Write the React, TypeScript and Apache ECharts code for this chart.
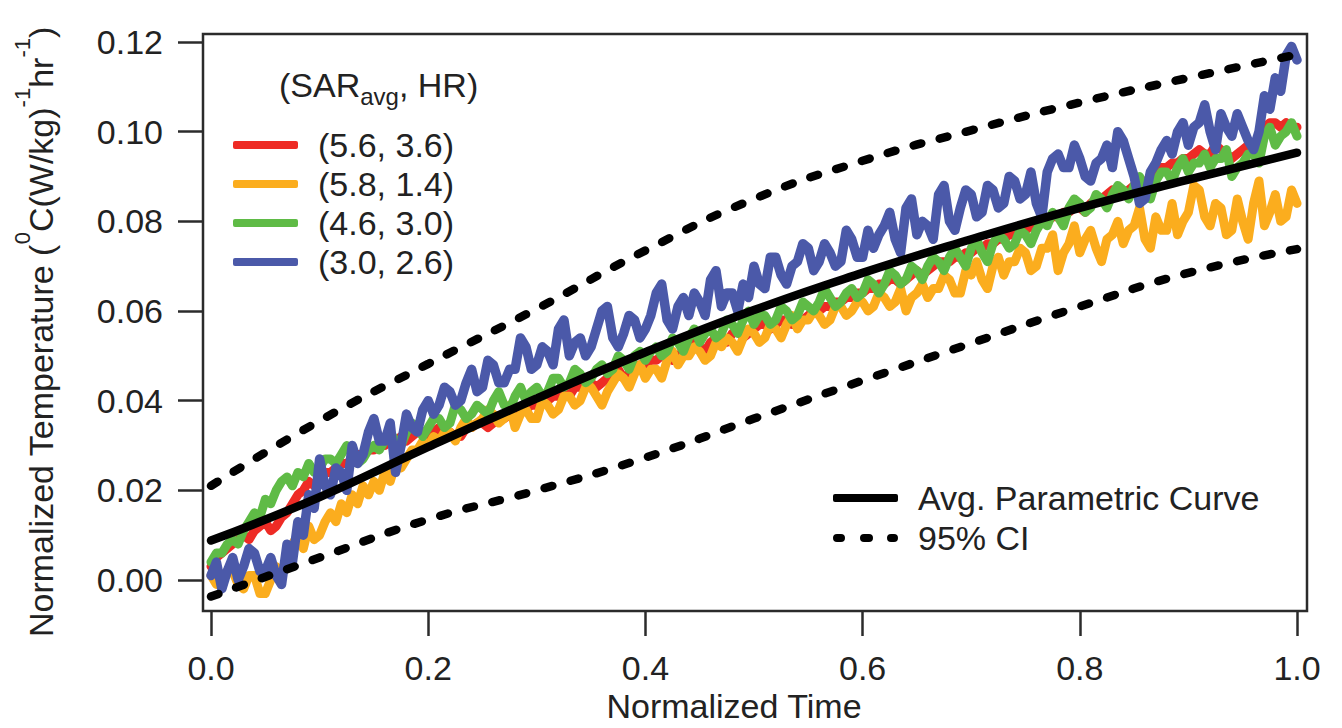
import React, { useEffect, useRef } from "react";
import * as echarts from "echarts";

const TIME = [
  0.0, 0.005, 0.01, 0.015, 0.02, 0.025, 0.03, 0.035, 0.04, 0.045,
  0.05, 0.055, 0.06, 0.065, 0.07, 0.075, 0.08, 0.085, 0.09, 0.095,
  0.1, 0.105, 0.11, 0.115, 0.12, 0.125, 0.13, 0.135, 0.14, 0.145,
  0.15, 0.155, 0.16, 0.165, 0.17, 0.175, 0.18, 0.185, 0.19, 0.195,
  0.2, 0.205, 0.21, 0.215, 0.22, 0.225, 0.23, 0.235, 0.24, 0.245,
  0.25, 0.255, 0.26, 0.265, 0.27, 0.275, 0.28, 0.285, 0.29, 0.295,
  0.3, 0.305, 0.31, 0.315, 0.32, 0.325, 0.33, 0.335, 0.34, 0.345,
  0.35, 0.355, 0.36, 0.365, 0.37, 0.375, 0.38, 0.385, 0.39, 0.395,
  0.4, 0.405, 0.41, 0.415, 0.42, 0.425, 0.43, 0.435, 0.44, 0.445,
  0.45, 0.455, 0.46, 0.465, 0.47, 0.475, 0.48, 0.485, 0.49, 0.495,
  0.5, 0.505, 0.51, 0.515, 0.52, 0.525, 0.53, 0.535, 0.54, 0.545,
  0.55, 0.555, 0.56, 0.565, 0.57, 0.575, 0.58, 0.585, 0.59, 0.595,
  0.6, 0.605, 0.61, 0.615, 0.62, 0.625, 0.63, 0.635, 0.64, 0.645,
  0.65, 0.655, 0.66, 0.665, 0.67, 0.675, 0.68, 0.685, 0.69, 0.695,
  0.7, 0.705, 0.71, 0.715, 0.72, 0.725, 0.73, 0.735, 0.74, 0.745,
  0.75, 0.755, 0.76, 0.765, 0.77, 0.775, 0.78, 0.785, 0.79, 0.795,
  0.8, 0.805, 0.81, 0.815, 0.82, 0.825, 0.83, 0.835, 0.84, 0.845,
  0.85, 0.855, 0.86, 0.865, 0.87, 0.875, 0.88, 0.885, 0.89, 0.895,
  0.9, 0.905, 0.91, 0.915, 0.92, 0.925, 0.93, 0.935, 0.94, 0.945,
  0.95, 0.955, 0.96, 0.965, 0.97, 0.975, 0.98, 0.985, 0.99, 0.995,
  1.0,
];

// (5.6, 3.6)
const RED = [
  0.003, 0.005, 0.006, 0.007, 0.008, 0.009, 0.010, 0.009, 0.011, 0.012,
  0.013, 0.011, 0.012, 0.014, 0.015, 0.017, 0.019, 0.020, 0.022, 0.021,
  0.023, 0.024, 0.024, 0.025, 0.026, 0.026, 0.027, 0.028, 0.028, 0.029,
  0.029, 0.030, 0.030, 0.031, 0.031, 0.032, 0.031, 0.032, 0.033, 0.033,
  0.032, 0.033, 0.034, 0.033, 0.033, 0.032, 0.032, 0.034, 0.034, 0.035,
  0.035, 0.034, 0.035, 0.036, 0.036, 0.037, 0.037, 0.038, 0.038, 0.039,
  0.039, 0.040, 0.040, 0.041, 0.041, 0.042, 0.041, 0.043, 0.043, 0.044,
  0.044, 0.043, 0.044, 0.045, 0.046, 0.047, 0.045, 0.046, 0.047, 0.048,
  0.048, 0.049, 0.049, 0.050, 0.050, 0.049, 0.050, 0.051, 0.052, 0.053,
  0.052, 0.051, 0.053, 0.054, 0.054, 0.053, 0.055, 0.056, 0.054, 0.055,
  0.056, 0.057, 0.057, 0.056, 0.057, 0.058, 0.058, 0.057, 0.057, 0.058,
  0.059, 0.060, 0.060, 0.061, 0.061, 0.062, 0.062, 0.063, 0.063, 0.064,
  0.064, 0.065, 0.065, 0.066, 0.066, 0.067, 0.067, 0.066, 0.067, 0.068,
  0.069, 0.068, 0.069, 0.070, 0.071, 0.071, 0.071, 0.072, 0.072, 0.073,
  0.073, 0.074, 0.074, 0.075, 0.075, 0.076, 0.076, 0.077, 0.077, 0.078,
  0.078, 0.079, 0.079, 0.080, 0.080, 0.081, 0.081, 0.082, 0.082, 0.083,
  0.083, 0.082, 0.084, 0.085, 0.085, 0.086, 0.087, 0.086, 0.086, 0.087,
  0.088, 0.089, 0.089, 0.088, 0.091, 0.092, 0.092, 0.093, 0.093, 0.094,
  0.094, 0.095, 0.096, 0.095, 0.095, 0.097, 0.096, 0.095, 0.094, 0.095,
  0.096, 0.097, 0.097, 0.098, 0.101, 0.102, 0.102, 0.101, 0.102, 0.101,
  0.101,
];

// (5.8, 1.4)
const ORANGE = [
  0.001, -0.001, 0.000, 0.002, 0.002, -0.001, -0.002, 0.001, 0.001, -0.003,
  -0.003, 0.000, 0.003, 0.001, 0.005, 0.008, 0.010, 0.007, 0.012, 0.009,
  0.010, 0.013, 0.015, 0.013, 0.017, 0.015, 0.019, 0.017, 0.021, 0.019,
  0.022, 0.020, 0.024, 0.022, 0.026, 0.025, 0.027, 0.029, 0.029, 0.031,
  0.030, 0.032, 0.031, 0.033, 0.033, 0.031, 0.034, 0.036, 0.034, 0.035,
  0.036, 0.038, 0.037, 0.035, 0.036, 0.039, 0.034, 0.037, 0.038, 0.036,
  0.036, 0.040, 0.039, 0.037, 0.038, 0.041, 0.041, 0.039, 0.040, 0.043,
  0.043, 0.041, 0.039, 0.042, 0.044, 0.046, 0.045, 0.043, 0.046, 0.048,
  0.045, 0.047, 0.047, 0.045, 0.049, 0.051, 0.048, 0.050, 0.050, 0.052,
  0.051, 0.049, 0.050, 0.053, 0.052, 0.054, 0.053, 0.051, 0.054, 0.056,
  0.055, 0.053, 0.054, 0.057, 0.056, 0.054, 0.057, 0.059, 0.056, 0.058,
  0.058, 0.060, 0.059, 0.057, 0.058, 0.061, 0.061, 0.059, 0.060, 0.062,
  0.062, 0.060, 0.061, 0.064, 0.063, 0.061, 0.062, 0.065, 0.060, 0.063,
  0.064, 0.066, 0.063, 0.065, 0.065, 0.068, 0.067, 0.064, 0.064, 0.069,
  0.068, 0.071, 0.067, 0.065, 0.070, 0.072, 0.068, 0.071, 0.071, 0.074,
  0.073, 0.069, 0.070, 0.074, 0.074, 0.077, 0.069, 0.073, 0.075, 0.079,
  0.073, 0.076, 0.078, 0.074, 0.071, 0.076, 0.077, 0.080, 0.075, 0.078,
  0.079, 0.083, 0.076, 0.074, 0.081, 0.078, 0.078, 0.084, 0.077, 0.080,
  0.082, 0.088, 0.087, 0.081, 0.079, 0.084, 0.083, 0.077, 0.078, 0.085,
  0.080, 0.076, 0.084, 0.089, 0.079, 0.082, 0.086, 0.080, 0.081, 0.087,
  0.084,
];

// (4.6, 3.0)
const GREEN = [
  0.004, 0.006, 0.006, 0.008, 0.009, 0.008, 0.011, 0.013, 0.015, 0.014,
  0.018, 0.017, 0.020, 0.022, 0.023, 0.021, 0.024, 0.023, 0.026, 0.024,
  0.025, 0.027, 0.027, 0.026, 0.028, 0.030, 0.028, 0.026, 0.027, 0.029,
  0.030, 0.029, 0.031, 0.033, 0.031, 0.030, 0.033, 0.035, 0.034, 0.032,
  0.034, 0.036, 0.036, 0.034, 0.035, 0.039, 0.038, 0.036, 0.037, 0.039,
  0.038, 0.037, 0.040, 0.042, 0.039, 0.038, 0.041, 0.043, 0.040, 0.042,
  0.043, 0.041, 0.042, 0.045, 0.045, 0.043, 0.044, 0.047, 0.046, 0.044,
  0.045, 0.047, 0.048, 0.046, 0.047, 0.050, 0.049, 0.047, 0.050, 0.051,
  0.049, 0.051, 0.052, 0.050, 0.051, 0.054, 0.053, 0.051, 0.054, 0.056,
  0.053, 0.055, 0.056, 0.054, 0.055, 0.058, 0.057, 0.055, 0.058, 0.060,
  0.057, 0.059, 0.059, 0.057, 0.058, 0.061, 0.060, 0.058, 0.059, 0.062,
  0.061, 0.060, 0.062, 0.065, 0.063, 0.061, 0.062, 0.064, 0.065, 0.063,
  0.064, 0.067, 0.066, 0.064, 0.066, 0.069, 0.068, 0.066, 0.067, 0.070,
  0.069, 0.067, 0.070, 0.072, 0.071, 0.069, 0.072, 0.074, 0.072, 0.070,
  0.074, 0.076, 0.073, 0.071, 0.075, 0.077, 0.076, 0.074, 0.075, 0.078,
  0.077, 0.075, 0.078, 0.080, 0.079, 0.082, 0.081, 0.079, 0.083, 0.085,
  0.084, 0.082, 0.083, 0.086, 0.085, 0.083, 0.086, 0.088, 0.087, 0.085,
  0.088, 0.090, 0.087, 0.085, 0.089, 0.091, 0.091, 0.089, 0.092, 0.094,
  0.091, 0.093, 0.093, 0.095, 0.092, 0.094, 0.094, 0.096, 0.090, 0.092,
  0.093, 0.095, 0.095, 0.093, 0.099, 0.101, 0.097, 0.099, 0.100, 0.102,
  0.099,
];

// (3.0, 2.6)
const BLUE = [
  0.001, 0.004, -0.002, 0.002, 0.005, 0.000, 0.003, 0.007, 0.006, 0.002,
  0.002, 0.005, 0.001, -0.001, 0.008, 0.004, 0.013, 0.010, 0.019, 0.016,
  0.027, 0.021, 0.019, 0.025, 0.024, 0.020, 0.030, 0.026, 0.028, 0.033,
  0.036, 0.031, 0.031, 0.035, 0.024, 0.030, 0.037, 0.034, 0.033, 0.038,
  0.040, 0.037, 0.039, 0.043, 0.042, 0.039, 0.040, 0.044, 0.047, 0.042,
  0.043, 0.049, 0.048, 0.044, 0.044, 0.047, 0.047, 0.054, 0.052, 0.047,
  0.048, 0.052, 0.051, 0.048, 0.056, 0.058, 0.050, 0.053, 0.054, 0.050,
  0.052, 0.056, 0.060, 0.061, 0.054, 0.052, 0.055, 0.059, 0.058, 0.054,
  0.056, 0.059, 0.064, 0.066, 0.058, 0.056, 0.061, 0.063, 0.059, 0.064,
  0.062, 0.059, 0.067, 0.069, 0.061, 0.064, 0.064, 0.060, 0.066, 0.063,
  0.070, 0.066, 0.065, 0.072, 0.072, 0.068, 0.066, 0.070, 0.071, 0.075,
  0.074, 0.069, 0.071, 0.075, 0.073, 0.070, 0.071, 0.078, 0.076, 0.072,
  0.072, 0.078, 0.074, 0.077, 0.079, 0.082, 0.076, 0.073, 0.083, 0.085,
  0.077, 0.080, 0.079, 0.076, 0.086, 0.088, 0.080, 0.078, 0.083, 0.087,
  0.086, 0.081, 0.082, 0.088, 0.087, 0.083, 0.084, 0.090, 0.089, 0.085,
  0.086, 0.091, 0.084, 0.081, 0.091, 0.094, 0.095, 0.092, 0.092, 0.097,
  0.094, 0.090, 0.089, 0.093, 0.094, 0.097, 0.092, 0.100, 0.098, 0.094,
  0.090, 0.084, 0.085, 0.091, 0.093, 0.096, 0.098, 0.095, 0.100, 0.102,
  0.097, 0.101, 0.102, 0.106, 0.100, 0.096, 0.104, 0.101, 0.099, 0.104,
  0.101, 0.098, 0.096, 0.100, 0.108, 0.105, 0.112, 0.109, 0.117, 0.119,
  0.116,
];

const FIT_TIME = [0.0, 0.1, 0.2, 0.3, 0.4, 0.5, 0.6, 0.7, 0.8, 0.9, 1.0];
const AVG_CURVE = [0.0088, 0.0185, 0.0297, 0.0405, 0.0508, 0.0602, 0.0685, 0.076, 0.083, 0.0893, 0.0953];
const CI_UPPER = [0.021, 0.0355, 0.0482, 0.0605, 0.0735, 0.085, 0.0935, 0.1003, 0.1065, 0.112, 0.1172];
const CI_LOWER = [-0.0037, 0.005, 0.0135, 0.02, 0.0273, 0.036, 0.0445, 0.0528, 0.061, 0.0685, 0.0738];

const SERIES_NAMES = ["(5.6, 3.6)", "(5.8, 1.4)", "(4.6, 3.0)", "(3.0, 2.6)"];
const SERIES_COLORS = ["#ee2b25", "#fbad1e", "#5fbb46", "#4b59a9"];
const AVG_NAME = "Avg. Parametric Curve";
const CI_NAME = "95% CI";

const FONT = '"Liberation Sans", Arial, Helvetica, sans-serif';
const TXT = "#222222";
const DOT_ICON =
  "path://M4,0H8A4,4 0 0 1 8,8H4A4,4 0 0 1 4,0Z M31,0H36A4,4 0 0 1 36,8H31A4,4 0 0 1 31,0Z M58,0H61A4,4 0 0 1 61,8H58A4,4 0 0 1 58,0Z";

const pair = (xs: number[], ys: number[]) => xs.map((x, i) => [x, ys[i]]);

export default function App() {
  const ref = useRef<HTMLDivElement>(null);
  useEffect(() => {
    if (!ref.current) return;
    const chart = echarts.init(ref.current, undefined, { renderer: "svg" });
    const widths = [9, 9, 9, 9.5];
    const noisy = [RED, ORANGE, GREEN, BLUE].map((vals, i) => ({
      type: "line",
      name: SERIES_NAMES[i],
      data: pair(TIME, vals),
      symbol: "none",
      showSymbol: false,
      clip: false,
      color: SERIES_COLORS[i],
      lineStyle: { color: SERIES_COLORS[i], width: widths[i], cap: "round", join: "round" },
      z: 2,
    }));
    const option: any = {
      animation: false,
      backgroundColor: "#ffffff",
      grid: { left: 211, right: 45, top: 42, bottom: 148, show: false, outerBoundsMode: "none", containLabel: false },
      xAxis: {
        type: "value",
        min: 0,
        max: 1,
        interval: 0.2,
        offset: 31,
        axisLine: { show: false, onZero: false },
        axisTick: { show: true, length: 25, lineStyle: { color: "#2b2b2b", width: 2.5 } },
        axisLabel: {
          fontSize: 34,
          lineHeight: 28,
          color: TXT,
          fontFamily: FONT,
          margin: 43,
          formatter: (v: number) => v.toFixed(1),
        },
        splitLine: { show: false },
        name: "Normalized Time",
        nameLocation: "middle",
        nameGap: 81,
        nameMoveOverlap: false,
        nameTextStyle: { fontSize: 34, lineHeight: 28, color: TXT, fontFamily: FONT, padding: [0, 40, 0, 0] },
      },
      yAxis: {
        type: "value",
        min: 0,
        max: 0.12,
        interval: 0.02,
        offset: 8,
        axisLine: { show: false, onZero: false },
        axisTick: { show: true, length: 25, lineStyle: { color: "#2b2b2b", width: 2.5 } },
        axisLabel: {
          fontSize: 34,
          color: TXT,
          fontFamily: FONT,
          margin: 40,
          formatter: (v: number) => v.toFixed(2),
        },
        splitLine: { show: false },
        name: "Normalized Temperature ({sup|0}C(W/kg){sup|-1}hr{sup|-1})",
        nameLocation: "middle",
        nameRotate: 90,
        nameGap: 132,
        nameMoveOverlap: false,
        nameTextStyle: {
          fontSize: 34,
          lineHeight: 60,
          color: TXT,
          fontFamily: FONT,
          padding: [0, 42, 0, 0],
          rich: {
            sup: { fontSize: 22, lineHeight: 22, verticalAlign: "top", color: TXT, fontFamily: FONT },
          },
        },
      },
      legend: [
        {
          orient: "vertical",
          left: 233,
          top: 128,
          padding: 0,
          itemWidth: 65,
          itemHeight: 8,
          itemGap: 5,
          selectedMode: false,
          itemStyle: { borderWidth: 0 },
          textStyle: { fontSize: 34, lineHeight: 34, color: TXT, fontFamily: FONT, padding: [0, 0, 0, 15] },
          data: SERIES_NAMES.map((n) => ({ name: n, icon: "roundRect" })),
        },
        {
          orient: "vertical",
          left: 833,
          top: 481,
          padding: 0,
          itemWidth: 65,
          itemHeight: 8,
          itemGap: 6,
          selectedMode: false,
          itemStyle: { borderWidth: 0 },
          textStyle: { fontSize: 34, lineHeight: 34, color: TXT, fontFamily: FONT, padding: [0, 0, 0, 15] },
          data: [
            { name: AVG_NAME, icon: "roundRect" },
            { name: CI_NAME, icon: DOT_ICON },
          ],
        },
      ],
      graphic: [
        {
          type: "rect",
          silent: true,
          z: 10,
          shape: { x: 203, y: 34, width: 1104, height: 577 },
          style: { fill: "none", stroke: "#2b2b2b", lineWidth: 2.5 },
        },
        {
          type: "text",
          silent: true,
          x: 279,
          y: 85,
          style: {
            text: "(SAR{sub|avg}, HR)",
            fontSize: 34,
            fontFamily: FONT,
            lineHeight: 46,
            fill: TXT,
            verticalAlign: "middle",
            rich: {
              sub: { fontSize: 24, lineHeight: 24, verticalAlign: "bottom", fill: TXT, fontFamily: FONT },
            },
          },
        },
      ],
      series: [
        ...noisy,
        {
          type: "line",
          name: AVG_NAME,
          data: pair(FIT_TIME, AVG_CURVE),
          smooth: true,
          symbol: "none",
          clip: false,
          color: "#000000",
          lineStyle: { color: "#000000", width: 8.5, cap: "round" },
          z: 3,
        },
        {
          type: "line",
          name: CI_NAME,
          data: pair(FIT_TIME, CI_UPPER),
          smooth: true,
          symbol: "none",
          clip: false,
          color: "#000000",
          lineStyle: { color: "#000000", width: 8.5, type: [8, 19], cap: "round" },
          z: 3,
        },
        {
          type: "line",
          name: CI_NAME,
          data: pair(FIT_TIME, CI_LOWER),
          smooth: true,
          symbol: "none",
          clip: false,
          color: "#000000",
          lineStyle: { color: "#000000", width: 8.5, type: [8, 19], cap: "round" },
          z: 3,
        },
      ],
    };
    chart.setOption(option);
    return () => chart.dispose();
  }, []);
  return (
    <div
      ref={ref}
      style={{ position: "absolute", left: 0, top: 0, width: 1342, height: 728, background: "#fff" }}
    />
  );
}
